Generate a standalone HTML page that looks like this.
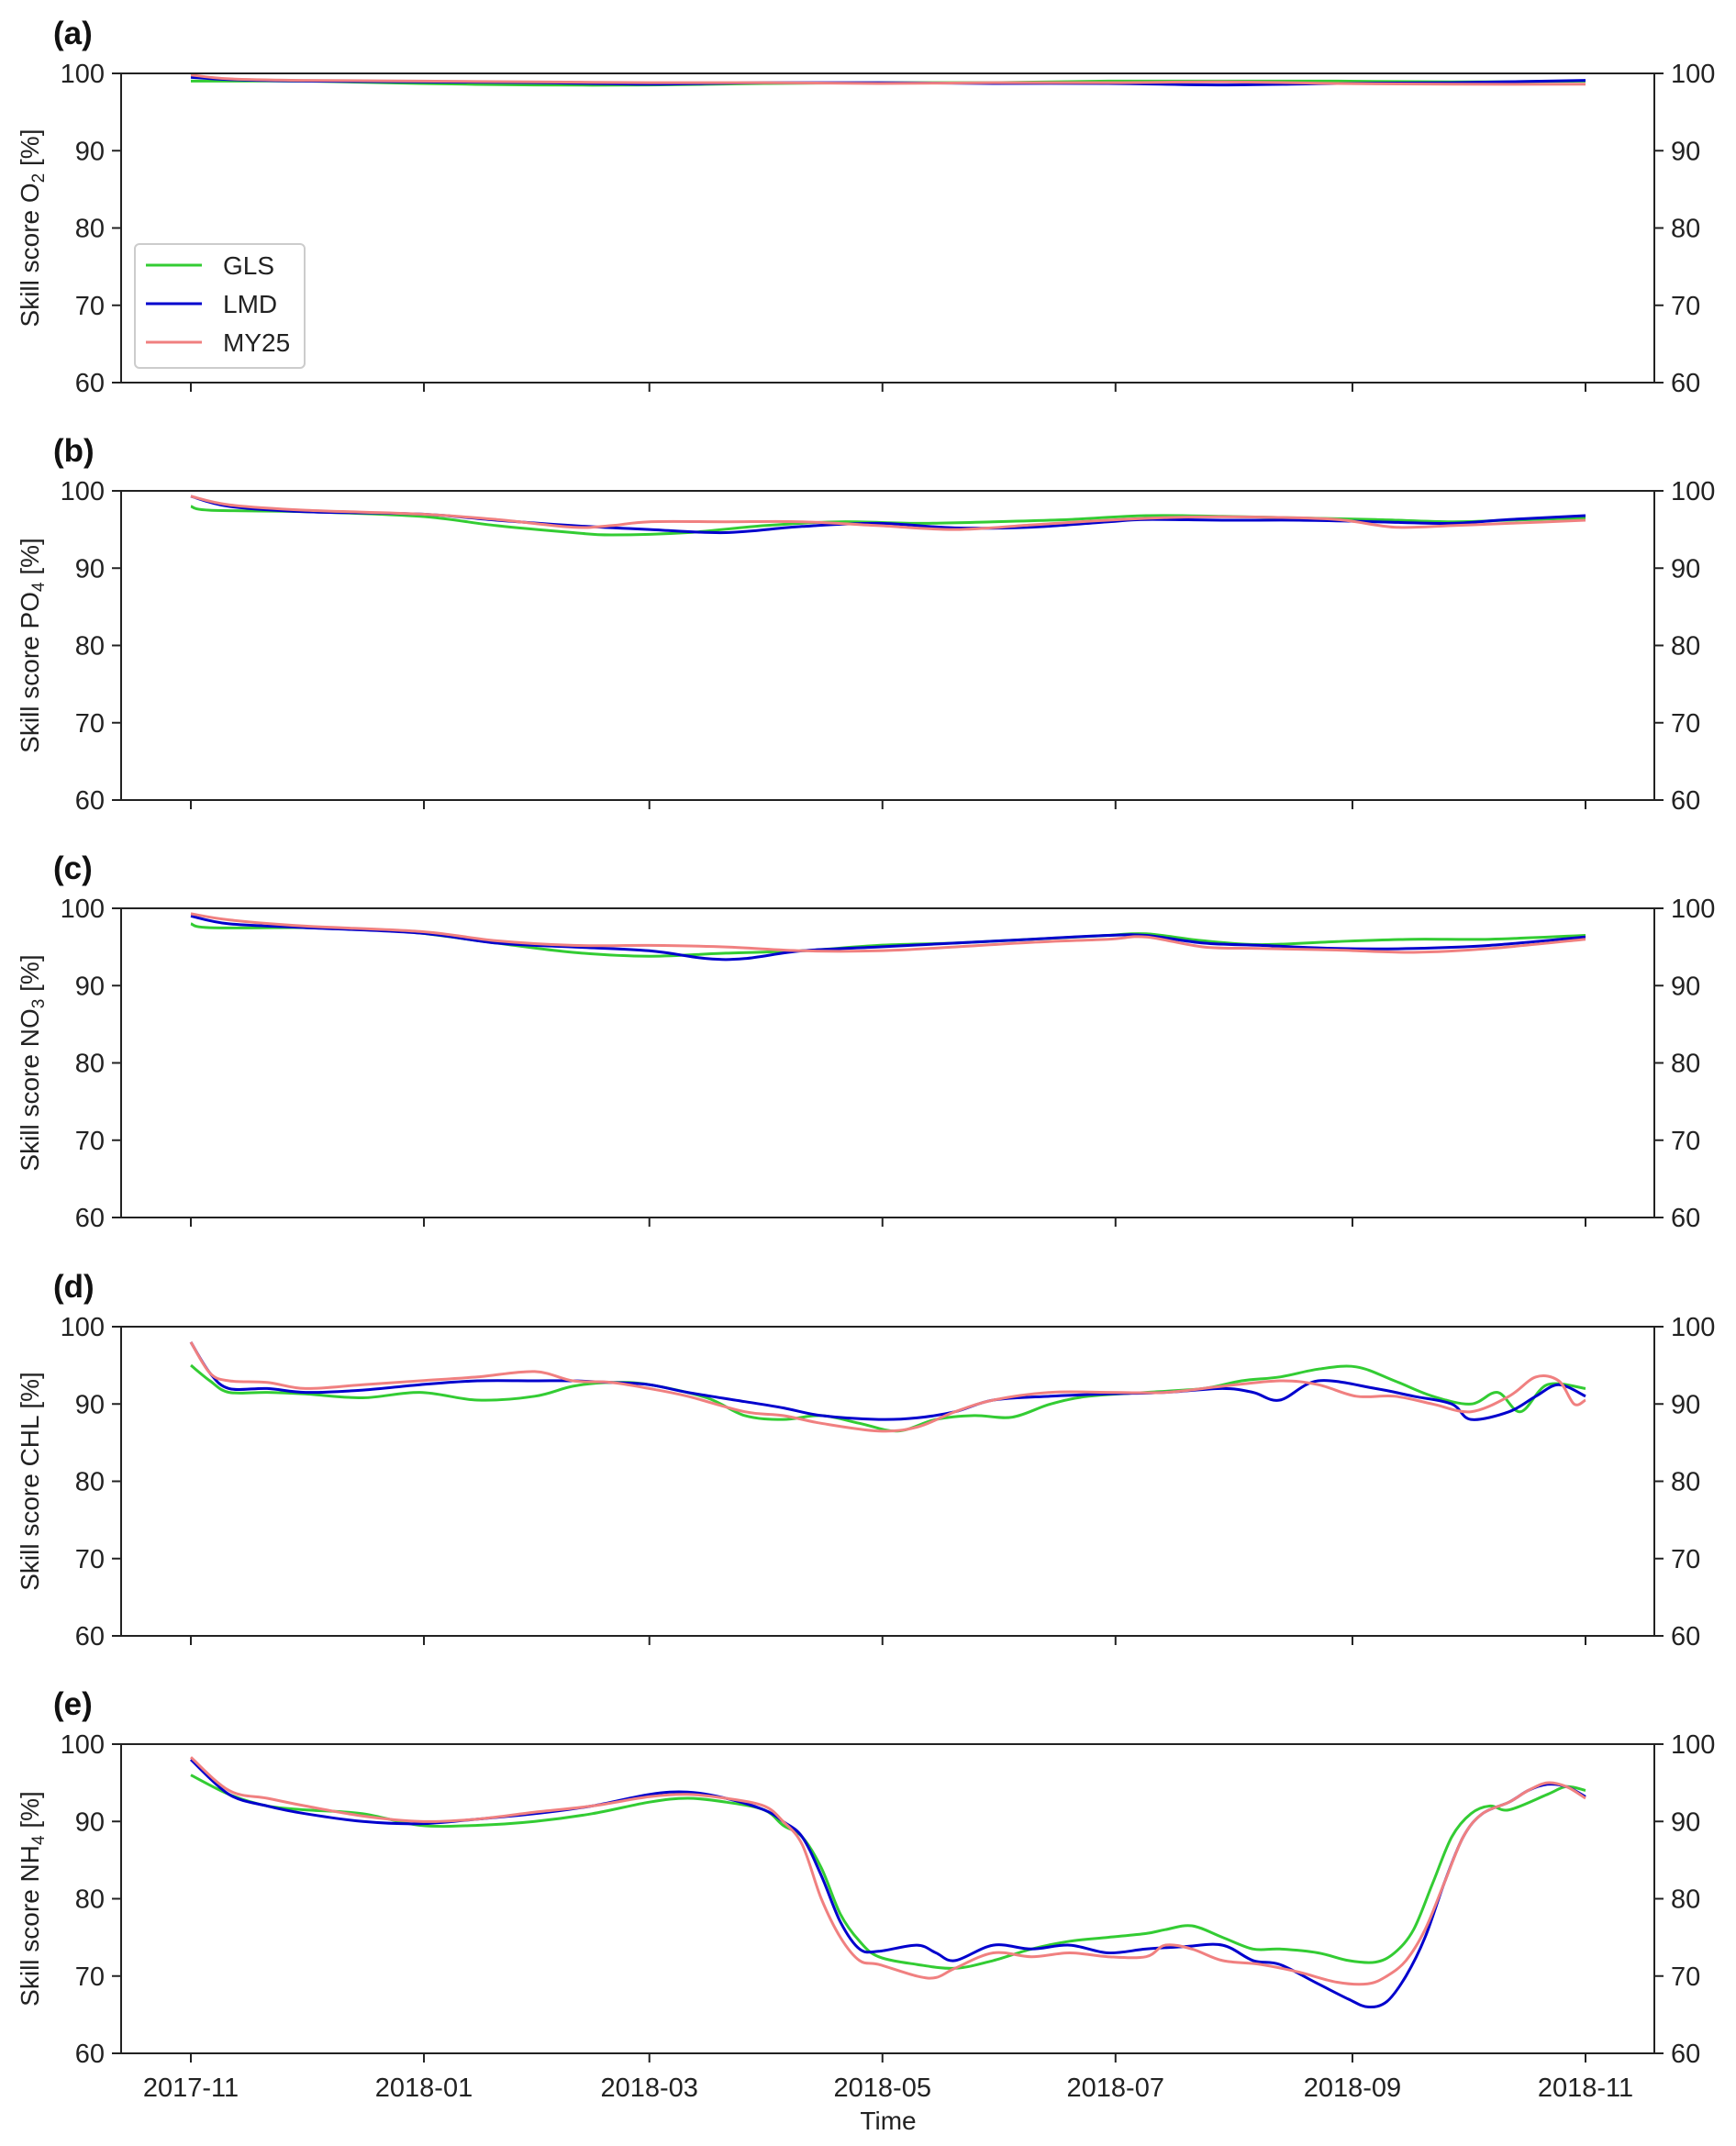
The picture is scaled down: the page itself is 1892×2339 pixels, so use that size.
<!DOCTYPE html>
<html><head><meta charset="utf-8"><style>
html,body{margin:0;padding:0;background:#fff;}
svg{display:block;font-family:"Liberation Sans",sans-serif;}
</style></head><body>
<svg id="fig" width="1892" height="2339" viewBox="0 0 1892 2339" xmlns="http://www.w3.org/2000/svg"></svg>
<script>
// ---- data (day offset from 2017-11-01, value %) ----
const tickDays = [0, 61, 120, 181, 242, 304, 365];
const tickLabels = ["2017-11","2018-01","2018-03","2018-05","2018-07","2018-09","2018-11"];
const yTicks = [60, 70, 80, 90, 100];
const panelLetters = ["(a)","(b)","(c)","(d)","(e)"];
const panelVars = ["O2","PO4","NO3","CHL","NH4"];

const aGLS = [[0,99.0],[5,99.0],[30,99.0],[60,98.7],[90,98.5],[120,98.5],[150,98.7],[180,98.8],[210,98.8],[240,99.0],[270,99.0],[300,99.0],[330,98.9],[365,99.0]];
const aLMD = [[0,99.5],[10,99.2],[30,99.0],[60,98.9],[90,98.8],[120,98.6],[150,98.8],[180,98.8],[210,98.7],[240,98.7],[270,98.5],[300,98.7],[330,98.8],[365,99.1]];
const aMY25 = [[0,99.8],[10,99.3],[30,99.1],[60,99.0],[90,98.9],[120,98.8],[150,98.8],[180,98.7],[210,98.8],[240,98.8],[270,98.9],[300,98.7],[330,98.6],[365,98.6]];

const bGLS = [[0,98],[5,97.5],[30,97.3],[60,96.7],[80,95.5],[100,94.6],[110,94.3],[130,94.6],[150,95.5],[170,96],[190,95.8],[210,96],[230,96.3],[250,96.8],[270,96.7],[290,96.5],[310,96.3],[330,96],[345,96.2],[365,96.5]];
const bLMD = [[0,99.3],[10,98],[30,97.3],[60,97],[80,96.2],[100,95.5],[120,95],[140,94.6],[160,95.4],[180,95.8],[200,95.2],[220,95.3],[240,96],[250,96.3],[270,96.2],[290,96.2],[310,96],[330,95.8],[345,96.3],[365,96.8]];
const bMY25 = [[0,99.3],[10,98.2],[30,97.5],[60,97],[80,96.3],[100,95.3],[110,95.5],[120,96],[140,96],[160,96],[180,95.5],[200,95],[220,95.6],[240,96.2],[260,96.6],[280,96.6],[300,96.3],[315,95.3],[330,95.5],[345,95.8],[365,96.2]];

const cGLS = [[0,98],[5,97.5],[30,97.5],[45,97.3],[60,96.8],[80,95.5],[100,94.3],[120,93.8],[140,94.2],[160,94.5],[180,95.2],[200,95.5],[220,96],[240,96.5],[250,96.7],[265,95.8],[280,95.3],[300,95.7],[320,96],[340,96],[365,96.5]];
const cLMD = [[0,99],[10,98],[30,97.5],[60,96.8],[80,95.5],[100,95],[120,94.5],[135,93.5],[145,93.5],[160,94.5],[180,95],[200,95.5],[220,96],[240,96.5],[250,96.5],[265,95.5],[280,95.2],[300,94.8],[320,94.8],[340,95.2],[365,96.3]];
const cMY25 = [[0,99.3],[10,98.5],[30,97.7],[60,97],[80,95.8],[100,95.2],[120,95.2],[140,95],[160,94.5],[180,94.5],[200,95],[220,95.6],[240,96],[250,96.3],[265,95],[280,94.8],[300,94.6],[320,94.3],[340,94.8],[365,96]];

const dGLS = [[0,95],[5,93],[10,91.5],[20,91.5],[30,91.3],[45,90.8],[60,91.5],[75,90.5],[90,91],[100,92.3],[110,92.8],[120,92.5],[135,90.8],[145,88.5],[155,88],[165,88.5],[175,87.5],[185,86.5],[195,88],[205,88.5],[215,88.3],[225,90],[235,91],[250,91.5],[265,92],[275,93],[285,93.5],[295,94.5],[305,94.8],[315,93],[325,91],[335,90],[342,91.5],[348,89],[355,92.5],[365,92]];
const dLMD = [[0,98],[5,94],[10,92],[20,92],[30,91.5],[45,91.8],[60,92.5],[75,93],[90,93],[100,93],[110,92.8],[120,92.5],[130,91.5],[145,90.3],[155,89.5],[165,88.5],[180,88],[190,88.2],[200,89],[210,90.5],[225,91],[240,91.3],[255,91.5],[270,92],[278,91.5],[285,90.5],[295,93],[310,92],[320,91],[330,90],[335,88],[345,89],[352,91],[358,92.5],[365,91]];
const dMY25 = [[0,98],[5,94],[10,93],[20,92.8],[30,92],[45,92.5],[60,93],[75,93.5],[90,94.2],[100,93],[110,92.8],[120,92],[130,91],[145,89],[155,88.5],[165,87.5],[180,86.5],[190,87],[200,89],[210,90.5],[225,91.5],[240,91.5],[255,91.5],[270,92.3],[285,93],[295,92.5],[305,91],[315,91],[325,90],[335,89],[345,91],[352,93.5],[358,93],[362,90],[365,90.5]];

const eGLS = [[0,96],[10,93.5],[20,92],[30,91.5],[45,91],[60,89.5],[75,89.5],[90,90],[105,91],[120,92.5],[130,93],[140,92.5],[150,91.5],[155,89.5],[160,88],[165,84],[170,78],[175,74.5],[180,72.5],[190,71.5],[200,71],[210,72],[220,73.5],[230,74.5],[240,75],[250,75.5],[255,76],[262,76.5],[270,75],[278,73.5],[285,73.5],[295,73],[303,72],[310,71.8],[315,73],[320,76],[325,82],[330,88],[335,91],[340,92],[345,91.5],[355,93.5],[360,94.5],[365,94]];
const eLMD = [[0,98],[10,93.5],[20,92],[30,91],[45,90],[60,89.7],[75,90.3],[90,91],[105,92],[120,93.5],[130,93.8],[140,93],[150,91.5],[155,90],[160,88],[165,83],[170,77],[175,73.5],[180,73.2],[190,74],[195,73],[200,72],[210,74],[220,73.5],[230,74],[240,73],[250,73.5],[260,73.8],[270,74],[278,72],[285,71.5],[295,69],[303,67],[308,66],[313,66.7],[318,70],[323,75],[328,82],[333,88],[338,91],[345,92.5],[350,94],[355,94.8],[360,94.5],[365,93.2]];
const eMY25 = [[0,98.3],[10,94],[20,93],[30,92],[45,90.7],[60,90],[75,90.3],[90,91.2],[105,92],[120,93.2],[130,93.5],[140,93],[150,92],[155,90],[160,87],[165,80],[170,75],[175,72],[180,71.5],[190,70],[195,69.8],[200,71],[210,73],[220,72.5],[230,73],[240,72.5],[250,72.5],[255,74],[262,73.5],[270,72],[280,71.5],[290,70.5],[300,69.2],[308,69],[313,70],[318,72],[323,76],[328,82],[333,88],[338,91],[345,92.5],[350,94],[355,95],[360,94.5],[365,93]];

const panelSeries = [[aGLS,aLMD,aMY25],[bGLS,bLMD,bMY25],[cGLS,cLMD,cMY25],[dGLS,dLMD,dMY25],[eGLS,eLMD,eMY25]];
const seriesNames = ["GLS","LMD","MY25"];
const seriesColors = ["#33cc33","#0000cd","#f08080"];

// ---- layout ----
const NS = "http://www.w3.org/2000/svg";
const svg = document.getElementById("fig");
const X0 = 132, X1 = 1803, PH = 337;
const panelTops = [80, 535, 990, 1446, 1901];
function xScale(d){ return 208 + (d/365)*1520; }
function yScale(v, top){ return top + (100 - v)/40*PH; }
function mk(tag, attrs, parent){
  const el = document.createElementNS(NS, tag);
  for (const k in attrs) el.setAttribute(k, attrs[k]);
  (parent||svg).appendChild(el);
  return el;
}
function smoothPath(P){
  let d = "M" + P[0][0].toFixed(1) + "," + P[0][1].toFixed(1);
  for (let i = 0; i < P.length - 1; i++) {
    const p0 = P[Math.max(0,i-1)], p1 = P[i], p2 = P[i+1], p3 = P[Math.min(P.length-1,i+2)];
    const c1x = p1[0] + (p2[0]-p0[0])/6, c1y = p1[1] + (p2[1]-p0[1])/6;
    const c2x = p2[0] - (p3[0]-p1[0])/6, c2y = p2[1] - (p3[1]-p1[1])/6;
    d += " C" + c1x.toFixed(1) + "," + c1y.toFixed(1) + " " + c2x.toFixed(1) + "," + c2y.toFixed(1) + " " + p2[0].toFixed(1) + "," + p2[1].toFixed(1);
  }
  return d;
}
function subLabel(v){
  const m = {O2:["O","2"],PO4:["PO","4"],NO3:["NO","3"],NH4:["NH","4"],CHL:["CHL",""]};
  return m[v];
}

panelTops.forEach((top, p) => {
  const g = mk("g", {});
  
  
  const bot = top + PH;
  panelSeries[p].forEach((s, i) => {
    const P = s.map(d => [xScale(d[0]), yScale(d[1], top)]);
    const pl = mk("path", {d: smoothPath(P), fill: "none", stroke: seriesColors[i], "stroke-width": 3, "stroke-linejoin": "round"}, g);
    
    
  });
  const fr = mk("rect", {x: X0, y: top, width: X1 - X0, height: PH, fill: "none", stroke: "#222", "stroke-width": 2}, g);
  
  
  yTicks.forEach(v => {
    const y = yScale(v, top);
    mk("line", {x1: X0 - 10, x2: X0, y1: y, y2: y, stroke: "#222", "stroke-width": 2}, g);
    mk("line", {x1: X1, x2: X1 + 10, y1: y, y2: y, stroke: "#222", "stroke-width": 2}, g);
    const tl = mk("text", {x: X0 - 18, y: y + 10, "text-anchor": "end", "font-size": 29, fill: "#222"}, g);
    tl.textContent = v;
    
    
    const tr = mk("text", {x: X1 + 18, y: y + 10, "text-anchor": "start", "font-size": 29, fill: "#222"}, g);
    tr.textContent = v;
    
    
  });
  tickDays.forEach((d, i) => {
    const x = xScale(d);
    mk("line", {x1: x, x2: x, y1: bot, y2: bot + 10, stroke: "#222", "stroke-width": 2}, g);
    if (p === 4) {
      const t = mk("text", {x: x, y: bot + 47, "text-anchor": "middle", "font-size": 29, fill: "#222"}, g);
      t.textContent = tickLabels[i];
      
      
    }
  });
  const pl = mk("text", {x: 58, y: top - 32, "font-size": 35, "font-weight": "bold", fill: "#111"}, g);
  pl.textContent = panelLetters[p];
  
  
  const sl = subLabel(panelVars[p]);
  const yt = mk("text", {transform: "translate(42," + (top + PH/2) + ") rotate(-90)", "text-anchor": "middle", "font-size": 28, fill: "#222"}, g);
  
  
  const t1 = mk("tspan", {}, yt); t1.textContent = "Skill score " + sl[0];
  if (sl[1]) { const t2 = mk("tspan", {"font-size": 19, dy: 6}, yt); t2.textContent = sl[1]; }
  const t3 = mk("tspan", {dy: sl[1] ? -6 : 0}, yt); t3.textContent = " [%]";
});

const lg = mk("g", {});


mk("rect", {x: 147, y: 266, width: 185, height: 135, rx: 5, fill: "#fff", stroke: "#ccc", "stroke-width": 2}, lg);
seriesNames.forEach((n, i) => {
  const y = 289 + i * 42;
  const ln = mk("line", {x1: 159, x2: 220, y1: y, y2: y, stroke: seriesColors[i], "stroke-width": 3}, lg);
  
  
  const t = mk("text", {x: 243, y: y + 10, "font-size": 28, fill: "#222"}, lg);
  t.textContent = n;
  
  
});

const xt = mk("text", {x: 968, y: 2321, "text-anchor": "middle", "font-size": 28, fill: "#222"});
xt.textContent = "Time";


</script>
</body></html>
